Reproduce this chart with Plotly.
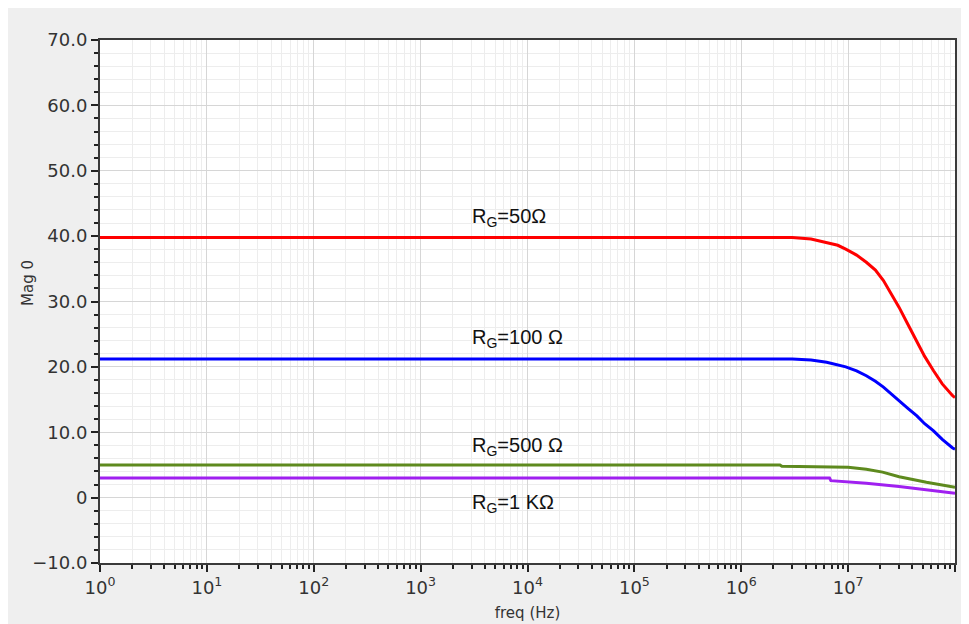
import math
import plotly.graph_objects as go

# ---- data ----
red_freq = [1, 3.0e6, 4.5e6, 6.3e6, 8.0e6, 9.5e6, 1.2e7, 1.48e7, 1.8e7, 2.14e7, 2.5e7,
            3.0e7, 3.6e7, 4.4e7, 5.2e7, 6.3e7, 7.6e7, 9.5e7, 1e8]
red_mag = [39.8, 39.8, 39.55, 39.0, 38.6, 38.0, 37.1, 36.0, 34.8, 33.2, 31.4,
           29.1, 26.6, 24.0, 21.6, 19.4, 17.4, 15.6, 15.3]

blue_freq = [1, 3.0e6, 4.5e6, 6.3e6, 9.5e6, 1.2e7, 1.48e7, 1.8e7, 2.14e7, 2.5e7,
             3.0e7, 3.6e7, 4.4e7, 5.2e7, 6.3e7, 7.6e7, 9.5e7, 1e8]
blue_mag = [21.2, 21.2, 21.05, 20.7, 20.0, 19.4, 18.65, 17.8, 16.9, 15.9,
            14.8, 13.7, 12.5, 11.3, 10.2, 8.9, 7.6, 7.4]

green_freq = [1, 2.3e6, 2.4e6, 1.0e7, 1.48e7, 2.1e7, 3.0e7, 5.4e7, 1e8]
green_mag = [5.0, 5.0, 4.8, 4.65, 4.35, 3.9, 3.2, 2.35, 1.6]

purple_freq = [1, 6.7e6, 6.9e6, 1.48e7, 3.0e7, 5.4e7, 1e8]
purple_mag = [3.0, 3.0, 2.6, 2.2, 1.7, 1.2, 0.65]

labels = ["R<sub>G</sub>=50Ω", "R<sub>G</sub>=100 Ω", "R<sub>G</sub>=500 Ω", "R<sub>G</sub>=1 KΩ"]
label_y = [42.9, 24.3, 7.8, -0.9]
label_freq = 2900

y_tickvals = [-10, 0, 10, 20, 30, 40, 50, 60, 70]
y_ticktext = ["−10.0", "0", "10.0", "20.0", "30.0", "40.0", "50.0", "60.0", "70.0"]
x_exponents = [0, 1, 2, 3, 4, 5, 6, 7, 8]

# ---- figure ----
fig = go.Figure()
series = [
    (red_freq, red_mag, "#ff0000"),
    (blue_freq, blue_mag, "#0000ff"),
    (green_freq, green_mag, "#5e8a1e"),
    (purple_freq, purple_mag, "#a020f0"),
]
for fx, fy, col in series:
    fig.add_trace(go.Scatter(x=fx, y=fy, mode="lines",
                             line=dict(color=col, width=3, shape="linear"),
                             showlegend=False, hoverinfo="skip"))

for txt, yy in zip(labels, label_y):
    fig.add_annotation(x=math.log10(label_freq), y=yy, text=txt,
                       showarrow=False, xanchor="left", yanchor="middle",
                       font=dict(family="Liberation Sans", size=20, color="#111111"))

W, H = 961, 616
pw, ph = 855, 523
ml, mt = 92, 32

fig.add_annotation(xref="paper", yref="paper", x=(20 - ml) / pw, y=(mt + ph - 275) / ph,
                   text="Mag 0", textangle=-90, showarrow=False,
                   xanchor="center", yanchor="middle",
                   font=dict(family="DejaVu Sans", size=15, color="#333333"))

x_minor = [k * 10 ** d for d in range(0, 8) for k in range(2, 10)]

fig.update_xaxes(
    type="log", range=[0, 8],
    tickmode="array",
    tickvals=[10 ** e for e in x_exponents],
    ticktext=["10<sup>%d</sup>" % e for e in x_exponents],
    ticks="outside", ticklen=7, tickwidth=2, tickcolor="#222222",
    showline=True, linecolor="#3a3a3a", linewidth=2, mirror=True,
    showgrid=True, gridcolor="#d6d6d6", gridwidth=1,
    minor=dict(tickmode="array", tickvals=x_minor, ticks="outside", ticklen=4,
               tickwidth=2, tickcolor="#222222", showgrid=True,
               gridcolor="#ededed", gridwidth=1),
    tickfont=dict(family="DejaVu Sans", size=18, color="#333333"),
    title=dict(text="freq (Hz)", font=dict(family="DejaVu Sans", size=15, color="#333333"),
               standoff=11),
    zeroline=False,
)
fig.update_yaxes(
    range=[-10, 70],
    tickmode="array", tickvals=y_tickvals, ticktext=y_ticktext,
    ticks="outside", ticklen=7, tickwidth=2, tickcolor="#222222",
    showline=True, linecolor="#3a3a3a", linewidth=2, mirror=True,
    showgrid=True, gridcolor="#d6d6d6", gridwidth=1,
    minor=dict(dtick=2, ticks="outside", ticklen=4, tickwidth=2,
               tickcolor="#222222", showgrid=True, gridcolor="#ededed", gridwidth=1),
    tickfont=dict(family="DejaVu Sans", size=18, color="#333333"),
    zeroline=False,
)

fig.update_layout(
    width=W, height=H,
    margin=dict(l=ml, r=W - ml - pw, t=mt, b=H - mt - ph, autoexpand=False),
    paper_bgcolor="#efefef", plot_bgcolor="white",
)

fig.write_html("out.html")
